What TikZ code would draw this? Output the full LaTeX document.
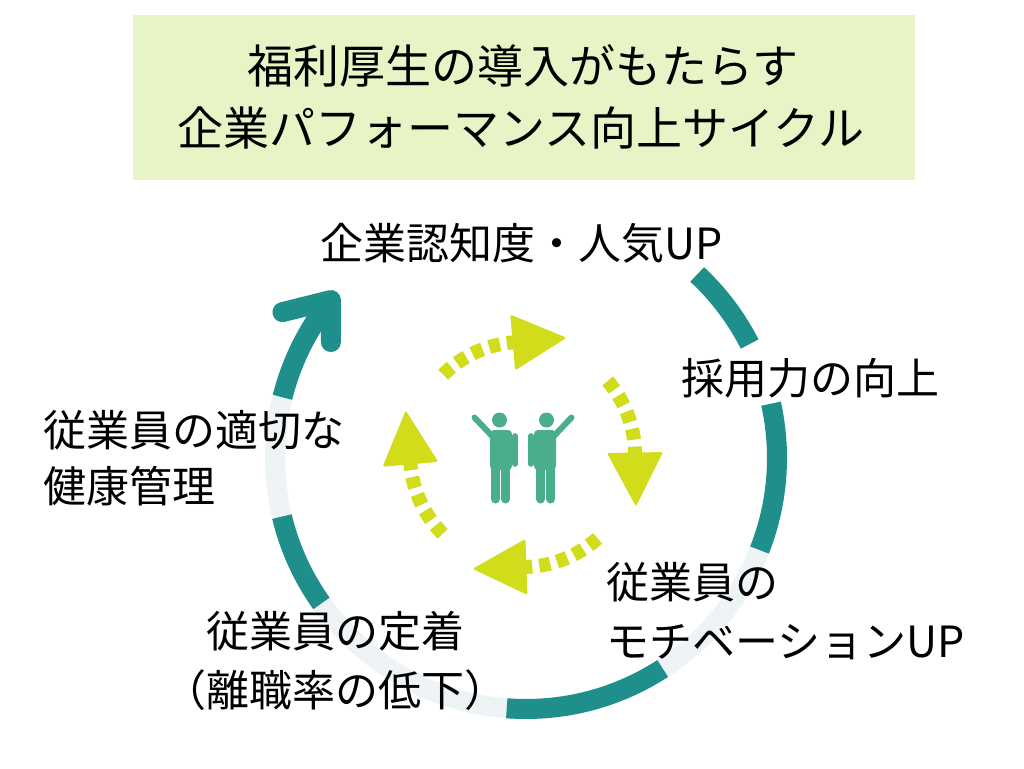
\documentclass[tikz,border=0pt]{standalone}
\usepackage{fontspec}
\setmainfont{Noto Sans CJK JP}
\usetikzlibrary{calc}
\definecolor{ringteal}{HTML}{1F8F8C}
\definecolor{ringlight}{HTML}{EEF3F6}
\definecolor{titlegreen}{HTML}{E7F4C6}
\definecolor{yg}{HTML}{D1DC1B}
\definecolor{iconc}{HTML}{4AAD8E}
\newcommand\ringseg[2]{\draw[bigarc] plot[domain=#1:#2, samples=40] ({526+251*cos(\x)},{458+251*sin(\x)});}
\newcommand\dashbit[3]{\pgfmathsetmacro\dsA{#1+#2}\pgfmathsetmacro\dsB{#1+#3}%
  \draw[dashseg] plot[domain=\dsA:\dsB, samples=6] ({522.5+112.5*cos(\x)},{454.5+112.5*sin(\x)});}
\newcommand\headtri[1]{\fill[yg, rounded corners=2pt] ($(ic)+(#1:112.5)+(#1:28)$) -- ($(ic)+(#1:112.5)+(#1+90:54)$) -- ($(ic)+(#1:112.5)+(#1:-28)$) -- cycle;}
\newcommand\cyclearrow[1]{%
  \dashbit{#1}{-39.8}{-34.2}\dashbit{#1}{-30.6}{-25}\dashbit{#1}{-21.4}{-15.8}\dashbit{#1}{-12.2}{-6.6}\dashbit{#1}{-3}{0.5}%
  \headtri{#1}}
\newcommand\person{%
  \fill[iconc] (499.5,420) circle[radius=7.5pt];
  \fill[iconc, rounded corners=4pt] (490,430) rectangle (512,470);
  \draw[iconc, line width=5.6pt, line cap=round] (515.2,436) -- (515.2,464);
  \draw[iconc, line width=6pt, line cap=round] (493,437) -- (474.5,417.5);
  \draw[iconc, line width=9pt, line cap=round] (495.5,468) -- (495.5,499);
  \draw[iconc, line width=9pt, line cap=round] (505.5,468) -- (505.5,499);}
\begin{document}
\begin{tikzpicture}[x=1pt,y=-1pt,
  lbl/.style={inner sep=0pt, font=\fontsize{43}{50}\selectfont, text=black},
  ttl/.style={inner sep=0pt, font=\fontsize{46}{54}\selectfont, text=black},
  bigarc/.style={draw=ringteal, line width=20pt},
  dashseg/.style={draw=yg, line width=14pt}]
\useasboundingbox (0,0) rectangle (1024,768);
\fill[white] (0,0) rectangle (1024,768);
% title
\node[fill=titlegreen, minimum width=782pt, minimum height=165pt, inner sep=0pt] (titlebox) at (524,97.5) {};
\node[ttl, anchor=base] (t1) at (523,83) {福利厚生の導入がもたらす};
\node[ttl, anchor=base] (t2) at (521,145) {企業パフォーマンス向上サイクル};
% big ring
\coordinate (C) at (526,458);
\draw[ringlight, line width=20pt] plot[domain=15:200, samples=80] ({526+251*cos(\x)},{458+251*sin(\x)});
\ringseg{-47}{-27}
\ringseg{-12.5}{21.5}
\ringseg{57}{94.4}
\ringseg{144.6}{166.5}
\ringseg{194}{219}
\coordinate (tip) at ($(C)+(219:251)$);
\coordinate (armA) at ($(tip)+(90:42)$);
\coordinate (armB) at ($(tip)+(166:50)$);
\draw[ringteal, line width=20pt, line cap=round, line join=round] (armA) -- (tip) -- (armB);
% inner cycle
\coordinate (ic) at (522.5,454.5);
\cyclearrow{-95}
\cyclearrow{-1}
\cyclearrow{88}
\cyclearrow{175}
% people icon
\person
\begin{scope}[shift={(1046,0)}, xscale=-1]
\person
\end{scope}
% labels
\node[lbl, anchor=base west] (l1) at (320,259) {企業認知度・人気UP};
\node[lbl, anchor=base west] (l2) at (681,394) {採用力の向上};
\node[lbl, anchor=base west] (l3a) at (606,598) {従業員の};
\node[lbl, anchor=base west] (l3b) at (606,657) {モチベーションUP};
\node[lbl, anchor=base] (l4a) at (335,647) {従業員の定着};
\node[lbl, anchor=base] (l4b) at (335,706) {（離職率の低下）};
\node[lbl, anchor=base west] (l5a) at (43,446) {従業員の適切な};
\node[lbl, anchor=base west] (l5b) at (43,502) {健康管理};
\end{tikzpicture}
\end{document}
